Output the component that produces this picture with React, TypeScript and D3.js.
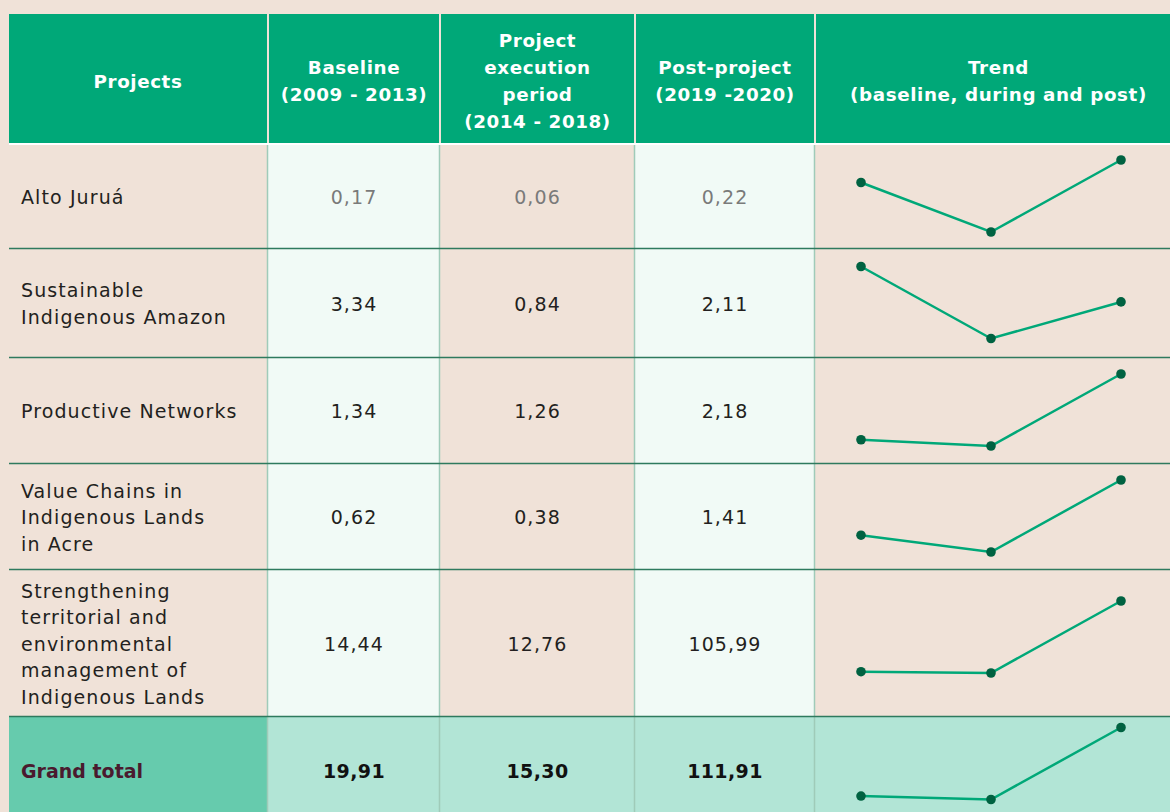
import React from 'react';
import * as d3 from 'd3';

// table content
const headers = [
  ['Projects'],
  ['Baseline', '(2009 - 2013)'],
  ['Project', 'execution', 'period', '(2014 - 2018)'],
  ['Post-project', '(2019 -2020)'],
  ['Trend', '(baseline, during and post)'],
];
const projects = [
  ['Alto Juruá'],
  ['Sustainable', 'Indigenous Amazon'],
  ['Productive Networks'],
  ['Value Chains in', 'Indigenous Lands', 'in Acre'],
  ['Strengthening', 'territorial and', 'environmental', 'management of', 'Indigenous Lands'],
];
const baseline = [0.17, 3.34, 1.34, 0.62, 14.44];
const execution = [0.06, 0.84, 1.26, 0.38, 12.76];
const postProject = [0.22, 2.11, 2.18, 1.41, 105.99];
const totalLabel = 'Grand total';
const totals = [19.91, 15.3, 111.91];
const periods = ['baseline', 'during', 'post'];

const W = 1170;
const H = 812;
const colX = [9, 268, 440, 635, 815, 1190];
const headTop = 14;
const headBottom = 143;
const rowY = [145, 249, 358, 464, 570, 717, 830];

const BEIGE = '#f0e2d8';
const MINT = '#f1faf6';
const GREEN = '#00a878';
const DARK = '#006241';
const FONT = "'DejaVu Sans', sans-serif";
const BODY = { fontSize: 19, letterSpacing: 1.1 };

const fmt = (v: number) => d3.format('.2f')(v).replace('.', ',');

function Spark({ vals, y0, y1 }: { vals: number[]; y0: number; y1: number }) {
  const x = d3.scalePoint().domain(periods).range([colX[4] + 46, colX[4] + 306]);
  const c = Math.min((y0 + y1) / 2 - 1, y0 + 67);
  const y = d3.scaleLinear().domain(d3.extent(vals) as [number, number]).range([c + 36, c - 36]);
  const line = d3.line<number>().x((_, i) => x(periods[i])!).y(d => y(d));
  return (
    <g>
      <path d={line(vals)!} fill="none" stroke={GREEN} strokeWidth={2.5} />
      {vals.map((v, i) => (
        <circle key={i} cx={x(periods[i])} cy={y(v)} r={4.8} fill={DARK} />
      ))}
    </g>
  );
}

function Lines({ lines, x, cy, anchor, lh, ...rest }: any) {
  const top = cy - ((lines.length - 1) * lh) / 2;
  return (
    <text x={x} textAnchor={anchor} {...rest}>
      {lines.map((l: string, i: number) => (
        <tspan key={i} x={x} y={top + i * lh} dominantBaseline="central">{l}</tspan>
      ))}
    </text>
  );
}

export default function App() {
  const cols = [baseline, execution, postProject];
  const rowBg = [BEIGE, MINT, BEIGE, MINT, BEIGE];
  return (
    <svg width={W} height={H} style={{ position: 'absolute', left: 0, top: 0 }} fontFamily={FONT}>
      <rect width={W} height={H} fill={BEIGE} />
      {/* header */}
      {headers.map((h, i) => {
        const x0 = colX[i] + (i > 0 ? 1 : 0);
        const x1 = colX[i + 1] - 1;
        return (
          <g key={i}>
            <rect x={x0} y={headTop} width={x1 - x0} height={headBottom - headTop} fill={GREEN} />
            <Lines lines={h} x={(x0 + x1) / 2 + (i === 4 ? -4 : 0)} cy={81} anchor="middle" lh={26.7}
              fill="#fff" fontWeight={700} fontSize={18.3} letterSpacing={0.6} />
          </g>
        );
      })}
      <rect x={colX[0]} y={headBottom} width={W} height={2} fill="#fff" />
      {/* body rows */}
      {projects.map((p, r) => {
        const y0 = rowY[r];
        const y1 = rowY[r + 1];
        const cy = (y0 + y1) / 2;
        return (
          <g key={r}>
            {rowBg.map((bg, c) => (
              <rect key={c} x={colX[c]} y={y0} width={colX[c + 1] - colX[c]} height={y1 - y0} fill={bg} />
            ))}
            <Lines lines={p} x={21} cy={cy} anchor="start" lh={26.5} fill="#231f20" {...BODY} />
            {cols.map((vals, c) => (
              <text key={c} x={(colX[c + 1] + colX[c + 2]) / 2} y={cy} textAnchor="middle" dominantBaseline="central"
                fill={r === 0 ? '#7a7a7a' : '#231f20'} {...BODY}>{fmt(vals[r])}</text>
            ))}
            <Spark vals={cols.map(v => v[r])} y0={y0} y1={y1} />
          </g>
        );
      })}
      {/* total row */}
      {(() => {
        const y0 = rowY[5];
        const y1 = rowY[6];
        const cy = 771;
        return (
          <g>
            <rect x={colX[0]} y={y0} width={colX[1] - colX[0]} height={y1 - y0} fill="#66cbad" />
            <rect x={colX[1]} y={y0} width={W - colX[1]} height={y1 - y0} fill="#b2e5d6" />
            <text x={21} y={cy} dominantBaseline="central" fill="#4a1a2e" fontWeight={700} {...BODY} letterSpacing={0}>{totalLabel}</text>
            {totals.map((v, c) => (
              <text key={c} x={(colX[c + 1] + colX[c + 2]) / 2} y={cy} textAnchor="middle" dominantBaseline="central"
                fill="#111" fontWeight={700} {...BODY} letterSpacing={0.4}>{fmt(v)}</text>
            ))}
            <Spark vals={totals} y0={717} y1={812} />
          </g>
        );
      })()}
      {/* grid lines */}
      {colX.slice(1, 5).map((x, i) => (
        <line key={i} x1={x - 0.5} x2={x - 0.5} y1={headBottom + 2} y2={H} stroke="#9fcbb9" strokeWidth={1.5} />
      ))}
      {rowY.slice(1, 6).map((y, i) => (
        <line key={i} x1={colX[0]} x2={W} y1={y - 0.5} y2={y - 0.5} stroke="#2e7a5e" strokeWidth={1.6} />
      ))}
    </svg>
  );
}
